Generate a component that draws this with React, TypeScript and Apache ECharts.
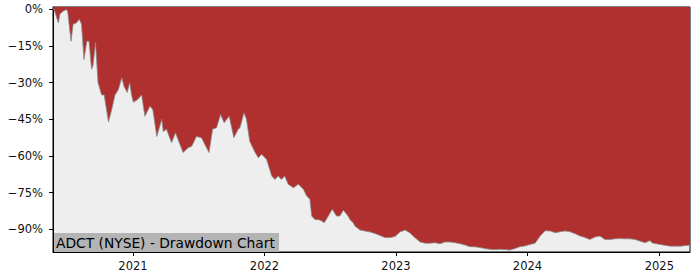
import React, { useEffect, useRef } from "react";
import * as echarts from "echarts";

const dates: string[] = [
  "2020-05-24", "2020-05-27", "2020-06-08", "2020-06-12", "2020-06-21", "2020-07-01", "2020-07-04",
  "2020-07-13", "2020-07-19", "2020-07-28", "2020-08-05", "2020-08-11", "2020-08-18", "2020-08-26",
  "2020-09-01", "2020-09-08", "2020-09-12", "2020-09-19", "2020-09-26", "2020-10-06", "2020-10-13",
  "2020-10-25", "2020-11-03", "2020-11-12", "2020-11-21", "2020-12-01", "2020-12-07", "2020-12-16",
  "2020-12-23", "2020-12-28", "2021-01-02", "2021-01-13", "2021-01-25", "2021-02-03", "2021-02-17",
  "2021-02-25", "2021-03-08", "2021-03-22", "2021-03-26", "2021-04-04", "2021-04-18", "2021-04-29",
  "2021-05-20", "2021-06-03", "2021-06-13", "2021-06-26", "2021-07-10", "2021-07-31", "2021-08-10",
  "2021-08-21", "2021-09-01", "2021-09-11", "2021-09-25", "2021-10-08", "2021-10-20", "2021-10-25",
  "2021-11-05", "2021-11-12", "2021-11-21", "2021-12-06", "2021-12-15", "2021-12-24", "2022-01-07",
  "2022-01-21", "2022-01-30", "2022-02-08", "2022-02-17", "2022-02-26", "2022-03-08", "2022-03-22",
  "2022-04-05", "2022-04-19", "2022-04-28", "2022-05-07", "2022-05-12", "2022-05-21", "2022-06-04",
  "2022-06-16", "2022-06-27", "2022-07-08", "2022-07-20", "2022-07-29", "2022-08-08", "2022-08-21",
  "2022-08-26", "2022-09-04", "2022-09-09", "2022-09-23", "2022-10-07", "2022-10-21", "2022-11-03",
  "2022-11-17", "2022-12-01", "2022-12-15", "2022-12-29", "2023-01-12", "2023-01-26", "2023-02-08",
  "2023-02-22", "2023-03-09", "2023-03-23", "2023-04-05", "2023-04-19", "2023-05-03", "2023-05-17",
  "2023-05-31", "2023-06-14", "2023-06-28", "2023-07-11", "2023-07-25", "2023-08-08", "2023-08-22",
  "2023-09-05", "2023-09-18", "2023-10-03", "2023-10-17", "2023-10-30", "2023-11-13", "2023-11-27",
  "2023-12-11", "2023-12-25", "2024-01-08", "2024-01-22", "2024-02-05", "2024-02-19", "2024-03-04",
  "2024-03-18", "2024-04-01", "2024-04-14", "2024-04-28", "2024-05-12", "2024-05-26", "2024-06-09",
  "2024-06-22", "2024-07-06", "2024-07-20", "2024-08-03", "2024-08-17", "2024-08-31", "2024-09-14",
  "2024-09-28", "2024-10-12", "2024-10-26", "2024-11-09", "2024-11-23", "2024-12-06", "2024-12-12",
  "2025-01-03", "2025-01-31", "2025-02-28", "2025-03-23", "2025-03-27",
];

const drawdown: number[] = [
  0, 0, -5.5, -2, -0.7, 0, -1.2,
  -13, -6, -5.5, -4, -6, -20.5, -13,
  -13, -24.5, -23, -13.6, -30, -35, -35,
  -46, -41, -35, -33, -28, -31.4, -34,
  -30, -35, -38, -37, -35, -43.7, -39.6,
  -41, -52, -45, -50, -49, -54.5, -50.5,
  -58.6, -56.6, -56, -52, -52.5, -58.6, -49,
  -48.4, -43, -46.4, -43.7, -52.5, -49, -48.4,
  -42.3, -45, -54, -58.6, -60.7, -59.3, -61.4,
  -68.2, -69.6, -68.2, -69.6, -68.2, -71.6, -73,
  -71.6, -73.6, -76.4, -77.7, -84.6, -86, -86.2,
  -87.3, -84.6, -81.8, -84.6, -84.6, -82.2, -84.6,
  -86, -87.3, -88.7, -90.3, -90.7, -91.1, -91.7,
  -92.5, -93.4, -93.4, -93, -91.1, -90.3, -91.4,
  -93.4, -95.2, -95.7, -95.7, -95.5, -95.9, -95.2,
  -95.2, -95.5, -95.9, -96.4, -97.1, -97.2, -97.5,
  -97.9, -98.2, -98.3, -98.2, -98.3, -98.5, -97.9,
  -97.1, -96.8, -96.2, -95.7, -92.8, -90.6, -90.7,
  -91.4, -91, -90.7, -91, -91.8, -92.8, -93.4,
  -94.2, -93.2, -92.8, -94.2, -94.2, -93.9, -93.8,
  -93.9, -93.9, -94.2, -94.9, -95.5, -94.6, -95.6,
  -96.2, -96.9, -96.9, -96.5, -96.6,
];

const yTicks: number[] = [0, -15, -30, -45, -60, -75, -90];
const yearTicks: number[] = [2021, 2022, 2023, 2024, 2025];
const title = "ADCT (NYSE) - Drawdown Chart";

const toTs = (s: string) => {
  const [y, m, d] = s.split("-").map(Number);
  return Date.UTC(y, m - 1, d);
};

export default function App() {
  const ref = useRef<HTMLDivElement>(null);
  useEffect(() => {
    if (!ref.current) return;
    const chart = echarts.init(ref.current, undefined, { renderer: "svg" });
    const font = "DejaVu Sans";
    const yearTs = yearTicks.map((y) => Date.UTC(y, 0, 1));
    chart.setOption({
      animation: false,
      grid: {
        left: 53,
        top: 7,
        right: 10,
        bottom: 28,
        show: true,
        backgroundColor: "#eeeeee",
        borderColor: "#000",
        borderWidth: 1,
      },
      xAxis: {
        type: "value",
        min: toTs(dates[0]),
        max: toTs(dates[dates.length - 1]),
        splitLine: { show: false },
        axisLine: { show: true, onZero: false, lineStyle: { color: "#000", width: 1 } },
        axisTick: {
          show: true,
          length: 4,
          lineStyle: { color: "#000" },
          customValues: yearTs,
        },
        axisLabel: {
          customValues: yearTs,
          formatter: (v: number) => String(new Date(v).getUTCFullYear()),
          color: "#111",
          fontFamily: font,
          fontSize: 11.5,
          margin: 8,
        },
      },
      yAxis: {
        type: "value",
        min: -99.3,
        max: 1.0,
        splitLine: { show: false },
        axisLine: { show: true, lineStyle: { color: "#000", width: 1 } },
        axisTick: {
          show: true,
          length: 4,
          lineStyle: { color: "#000" },
          customValues: yTicks,
        },
        axisLabel: {
          customValues: yTicks,
          formatter: (v: number) => (v < 0 ? "\u2212" : "") + Math.abs(v) + "%",
          color: "#111",
          fontFamily: font,
          fontSize: 11.5,
          margin: 10,
        },
      },
      series: [
        {
          type: "line",
          data: dates.map((d, i) => [toTs(d), drawdown[i]]),
          showSymbol: false,
          symbol: "none",
          lineStyle: { color: "#8a8a8a", width: 0.8 },
          areaStyle: { color: "#b03030", opacity: 1, origin: "end" },
          z: 2,
        },
      ],
      graphic: [
        {
          type: "rect",
          shape: { x: 54, y: 233, width: 225, height: 19 },
          style: { fill: "#b4b4b4" },
          z: 10,
        },
        {
          type: "text",
          x: 56,
          y: 242.5,
          style: {
            text: title,
            fill: "#000",
            font: `13.8px ${font}`,
            verticalAlign: "middle",
            align: "left",
          },
          z: 11,
        },
      ],
    });
    return () => chart.dispose();
  }, []);
  return <div ref={ref} style={{ width: 700, height: 280, position: "absolute", left: 0, top: 0 }} />;
}
